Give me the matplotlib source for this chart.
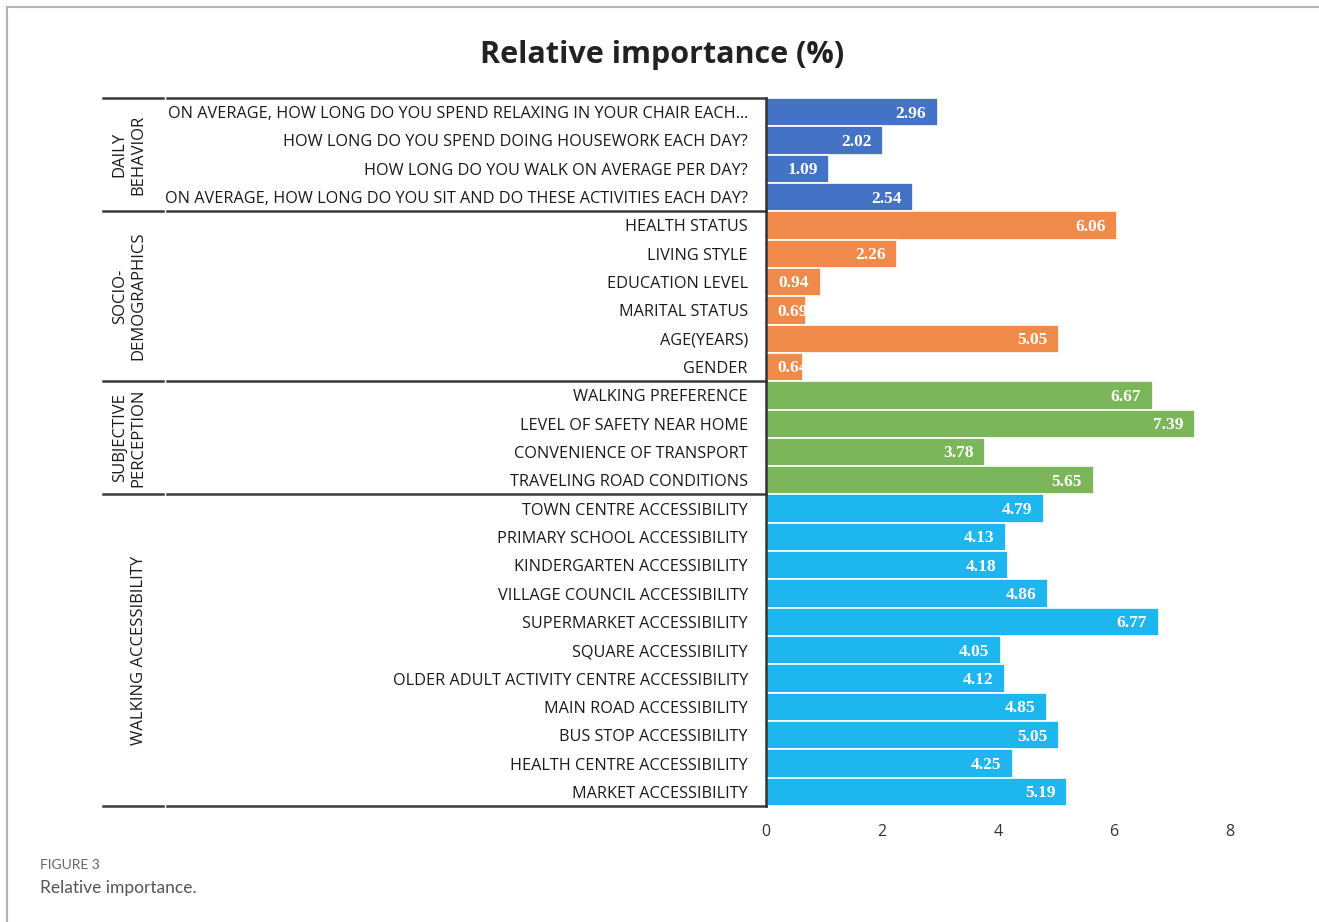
import matplotlib.pyplot as plt
import matplotlib.transforms as mtransforms
from matplotlib.lines import Line2D

# Survey items, grouped, in display order (top to bottom)
daily_items = [
    "ON AVERAGE, HOW LONG DO YOU SPEND RELAXING IN YOUR CHAIR EACH\u2026",
    "HOW LONG DO YOU SPEND DOING HOUSEWORK EACH DAY?",
    "HOW LONG DO YOU WALK ON AVERAGE PER DAY?",
    "ON AVERAGE, HOW LONG DO YOU SIT AND DO THESE ACTIVITIES EACH DAY?",
]
daily_values = [2.96, 2.02, 1.09, 2.54]

socio_items = ["HEALTH STATUS", "LIVING STYLE", "EDUCATION LEVEL",
               "MARITAL STATUS", "AGE(YEARS)", "GENDER"]
socio_values = [6.06, 2.26, 0.94, 0.69, 5.05, 0.64]

subjective_items = ["WALKING PREFERENCE", "LEVEL OF SAFETY NEAR HOME",
                    "CONVENIENCE OF TRANSPORT", "TRAVELING ROAD CONDITIONS"]
subjective_values = [6.67, 7.39, 3.78, 5.65]

walking_items = [
    "TOWN CENTRE ACCESSIBILITY", "PRIMARY SCHOOL ACCESSIBILITY",
    "KINDERGARTEN ACCESSIBILITY", "VILLAGE COUNCIL ACCESSIBILITY",
    "SUPERMARKET ACCESSIBILITY", "SQUARE ACCESSIBILITY",
    "OLDER ADULT ACTIVITY CENTRE ACCESSIBILITY", "MAIN ROAD ACCESSIBILITY",
    "BUS STOP ACCESSIBILITY", "HEALTH CENTRE ACCESSIBILITY",
    "MARKET ACCESSIBILITY",
]
walking_values = [4.79, 4.13, 4.18, 4.86, 6.77, 4.05, 4.12, 4.85, 5.05, 4.25, 5.19]

group_names = ["DAILY\nBEHAVIOR", "SOCIO-\nDEMOGRAPHICS",
               "SUBJECTIVE\nPERCEPTION", "WALKING ACCESSIBILITY"]
group_items = [daily_items, socio_items, subjective_items, walking_items]
group_values = [daily_values, socio_values, subjective_values, walking_values]
group_colors = ["#4472C4", "#F08A4B", "#7CB65A", "#1EB6EE"]

x_ticks = [0, 2, 4, 6, 8]

plt.rcParams['font.family'] = ['Open Sans', 'DejaVu Sans']

W, H = 1319, 922
fig = plt.figure(figsize=(W / 100, H / 100), dpi=100)
ax = fig.add_axes([766 / W, 1 - 806 / H, (1230 - 766) / W, (806 - 98) / H])

labels, values, colors = [], [], []
for items, vals, col in zip(group_items, group_values, group_colors):
    labels += items
    values += vals
    colors += [col] * len(items)

ypos = list(range(len(values)))
bars = ax.barh(ypos, values, height=1.0, color=colors,
               edgecolor="white", linewidth=1.2)

# value labels, clipped to their bar
for bar, v, y in zip(bars, values, ypos):
    if v < 0.8:
        t = ax.text(0.2, y + 0.05, f"{v:.2f}", ha="left", va="center")
    else:
        t = ax.text(v - 0.2, y + 0.05, f"{v:.2f}", ha="right", va="center")
    t.set(color="white", fontweight="bold", fontsize=12.5,
          family=["Liberation Serif", "DejaVu Serif"])
    t.set_clip_path(bar)

ax.set_xlim(0, 8)
ax.set_ylim(len(values) - 0.5, -0.5)
ax.set_xticks(x_ticks)
ax.set_xticklabels([str(t) for t in x_ticks])
ax.set_yticks(ypos)
ax.set_yticklabels(labels)
ax.tick_params(axis="y", length=0, pad=13, labelsize=11.7, labelcolor="#1a1a1a")
ax.tick_params(axis="x", length=0, pad=13, labelsize=11.5, labelcolor="#333333")
for side in ["top", "right", "bottom"]:
    ax.spines[side].set_visible(False)
ax.spines["left"].set_color("#333333")
ax.spines["left"].set_linewidth(1.8)

# group separators and group names
tr = mtransforms.blended_transform_factory(fig.transFigure, ax.transData)
start = 0
bounds = [-0.5]
for items in group_items:
    start += len(items)
    bounds.append(start - 0.5)
for b in bounds:
    for x0, x1 in [(103 / W, 163 / W), (167 / W, 766 / W)]:
        ax.add_line(Line2D([x0, x1], [b, b], transform=tr, color="#3a3a3a",
                           linewidth=1.8, clip_on=False))
for name, lo, hi in zip(group_names, bounds[:-1], bounds[1:]):
    xc = 139 / W if "\n" not in name else 129 / W
    ax.text(xc, (lo + hi) / 2, name, transform=tr, rotation=90,
            ha="center", va="center", multialignment="center",
            fontsize=12, color="#1a1a1a", linespacing=1.2)

fig.text(662 / W, 1 - 55 / H, "Relative importance (%)", ha="center",
         va="center", fontsize=22, fontweight="bold", color="#222222")

# caption and page frame
fig.text(40 / W, 1 - 865 / H, "FIGURE 3", ha="left", va="center",
         fontsize=10, color="#666666", family=["Lato", "DejaVu Sans"])
fig.text(40 / W, 1 - 888 / H, "Relative importance.", ha="left",
         va="center", fontsize=12.5, color="#555555",
         family=["Lato", "DejaVu Sans"])
fig.add_artist(Line2D([7 / W, 1], [1 - 7 / H, 1 - 7 / H],
                      transform=fig.transFigure, color="#b5b5b5", linewidth=1.5))
fig.add_artist(Line2D([7 / W, 7 / W], [0, 1 - 7 / H],
                      transform=fig.transFigure, color="#b5b5b5", linewidth=1.5))

fig.savefig("out.png", dpi=100, facecolor="white")
